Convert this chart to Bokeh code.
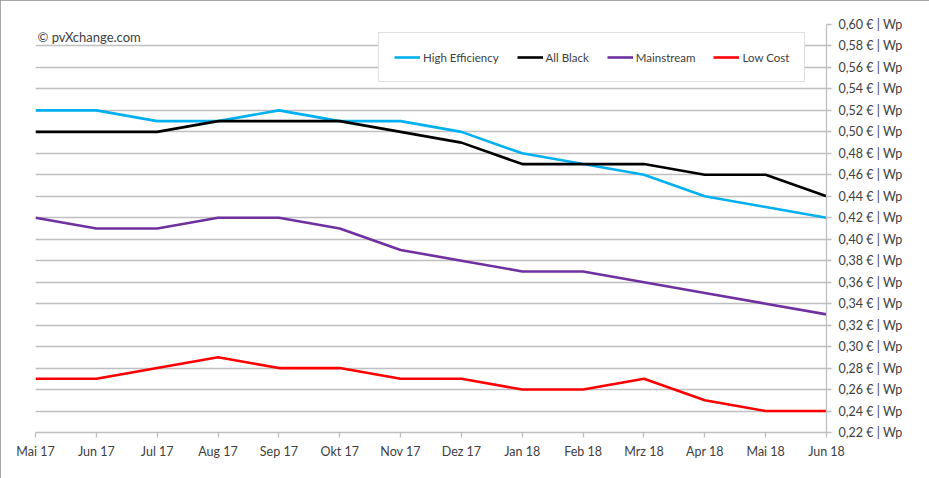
from bokeh.plotting import figure
from bokeh.models import Range1d, FixedTicker, CustomJSTickFormatter, Legend, LegendItem, Label
from bokeh.embed import file_html
from bokeh.resources import INLINE

months = ["Mai 17", "Jun 17", "Jul 17", "Aug 17", "Sep 17", "Okt 17", "Nov 17",
          "Dez 17", "Jan 18", "Feb 18", "Mrz 18", "Apr 18", "Mai 18", "Jun 18"]
high_eff = [0.52, 0.52, 0.51, 0.51, 0.52, 0.51, 0.51, 0.50, 0.48, 0.47, 0.46, 0.44, 0.43, 0.42]
all_black = [0.50, 0.50, 0.50, 0.51, 0.51, 0.51, 0.50, 0.49, 0.47, 0.47, 0.47, 0.46, 0.46, 0.44]
mainstream = [0.42, 0.41, 0.41, 0.42, 0.42, 0.41, 0.39, 0.38, 0.37, 0.37, 0.36, 0.35, 0.34, 0.33]
low_cost = [0.27, 0.27, 0.28, 0.29, 0.28, 0.28, 0.27, 0.27, 0.26, 0.26, 0.27, 0.25, 0.24, 0.24]
y_ticks = [0.22, 0.24, 0.26, 0.28, 0.30, 0.32, 0.34, 0.36, 0.38, 0.40,
           0.42, 0.44, 0.46, 0.48, 0.50, 0.52, 0.54, 0.56, 0.58, 0.60]

series = [("High Efficiency", high_eff, "#00B0F0"),
          ("All Black", all_black, "#000000"),
          ("Mainstream", mainstream, "#7030A0"),
          ("Low Cost", low_cost, "#FF0000")]

FONT = "Lato"
GRAY = "#BFBFBF"
TXT = "#404040"

p = figure(width=929, height=478, output_backend="svg", toolbar_location=None,
           x_range=Range1d(0, len(months) - 1), y_range=Range1d(0.22, 0.60),
           y_axis_location="right", min_border_left=35, min_border_right=103,
           min_border_top=24, min_border_bottom=46)
p.outline_line_color = None
p.background_fill_color = "white"
p.border_fill_color = "white"
p.styles = {"outline": "2px solid #8C8C8C", "outline-offset": "-2px"}

x = list(range(len(months)))
renderers = []
for name, vals, col in series:
    r = p.line(x, vals, line_color=col, line_width=2.6)
    renderers.append((name, r))

# axes
xa = p.xaxis[0]
xa.ticker = FixedTicker(ticks=x)
xa.major_label_overrides = {i: m for i, m in enumerate(months)}
xa.axis_line_color = GRAY
xa.axis_line_width = 1.3
xa.major_tick_line_color = GRAY
xa.major_tick_line_width = 1.3
xa.major_tick_in = 0
xa.major_tick_out = 5
xa.minor_tick_line_color = None
xa.major_label_standoff = 6
xa.major_label_text_font = FONT
xa.major_label_text_font_size = "12.5px"
xa.major_label_text_color = TXT

ya = p.yaxis[0]
ya.ticker = FixedTicker(ticks=y_ticks)
ya.formatter = CustomJSTickFormatter(code="return tick.toFixed(2).replace('.', ',') + ' \u20ac | Wp';")
ya.axis_line_color = GRAY
ya.axis_line_width = 1.3
ya.major_tick_line_color = GRAY
ya.major_tick_line_width = 1.3
ya.major_tick_in = 0
ya.major_tick_out = 5
ya.minor_tick_line_color = None
ya.major_label_standoff = 7
ya.major_label_text_font = FONT
ya.major_label_text_font_size = "12.5px"
ya.major_label_text_color = TXT

p.xgrid.grid_line_color = None
p.ygrid.grid_line_color = GRAY
p.ygrid.grid_line_width = 1.3
p.ygrid.ticker = FixedTicker(ticks=y_ticks)

legend = Legend(items=[LegendItem(label=n, renderers=[r]) for n, r in renderers],
                orientation="horizontal", location=(343, 350),
                glyph_width=26, glyph_height=18, label_standoff=3, spacing=18,
                padding=15, margin=0,
                label_text_font=FONT, label_text_font_size="11.5px",
                label_text_color=TXT,
                border_line_color=GRAY, border_line_width=1,
                background_fill_color="white", background_fill_alpha=1.0)
p.add_layout(legend, "center")

lab = Label(x=0, y=0.60, x_offset=2, y_offset=-4, text="\u00a9 pvXchange.com",
            text_font=FONT, text_font_size="13px", text_color=TXT,
            text_baseline="top", text_align="left")
p.add_layout(lab)

open("out.html", "w").write(file_html(p, INLINE))
